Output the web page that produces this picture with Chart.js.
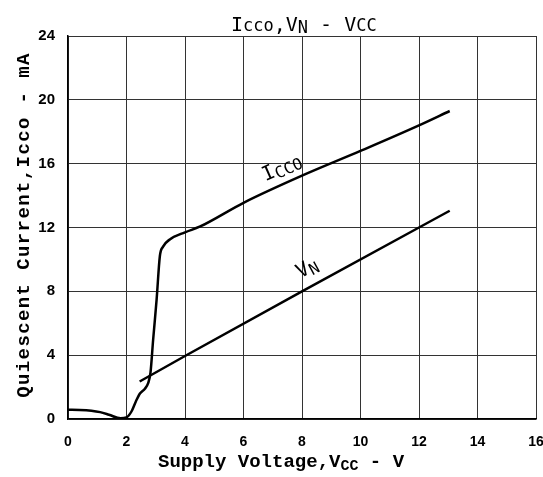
<!DOCTYPE html>
<html>
<head>
<meta charset="utf-8">
<script src="https://cdn.jsdelivr.net/npm/chart.js@4.4.1/dist/chart.umd.min.js"></script>
<style>
  html, body { margin: 0; padding: 0; background: #fff; }
  #wrap { width: 543px; height: 477px; }
</style>
</head>
<body>
<div id="wrap"><canvas id="grafico"></canvas></div>
<script>
// Icco curve (V, mA)
const icco_x = [0, 0.4, 0.8, 1.1, 1.4, 1.8, 2.0, 2.17, 2.32, 2.46, 2.63, 2.74, 2.82, 2.91, 3.03, 3.14, 3.25, 3.48, 4.0, 4.5, 6, 8, 10, 12, 13.05]
const icco_y = [0.58, 0.57, 0.52, 0.43, 0.27, 0.04, 0.1, 0.47, 1.1, 1.6, 1.9, 2.25, 2.9, 4.95, 7.5, 10.2, 10.8, 11.25, 11.7, 12.05, 13.55, 15.25, 16.8, 18.4, 19.3]

// VN line (V)
const vn_x = [2.45, 4, 8, 12, 13.05]
const vn_y = [2.35, 3.95, 8, 12, 13.05]

const x_ticks = [0, 2, 4, 6, 8, 10, 12, 14, 16]
const y_ticks = [0, 4, 8, 12, 16, 20, 24]

function pares(xs, ys){
    var out = []
    for(var i = 0; i < xs.length; i++){
        out.push({x: xs[i], y: ys[i]})
    }
    return out
}

// draws a string made of [text, font, dy] pieces starting at x
function pecas(ctx, parts, x, y){
    for(const p of parts){
        ctx.font = p[1]
        ctx.fillText(p[0], x, y + (p[2] || 0))
        x += ctx.measureText(p[0]).width
    }
    return x
}
function largura(ctx, parts){
    var w = 0
    for(const p of parts){
        ctx.font = p[1]
        w += ctx.measureText(p[0]).width
    }
    return w
}

const textos = {
    id: 'textos',
    afterDraw(chart){
        const ctx = chart.ctx
        const xs = chart.scales.x, ys = chart.scales.y
        ctx.save()
        ctx.fillStyle = '#000'
        ctx.textBaseline = 'alphabetic'
        ctx.textAlign = 'left'

        // title
        const tf = '20px "DejaVu Sans Mono"'
        const tfs = '17px "DejaVu Sans Mono"'
        const titulo = [['I', tf], ['cco', tfs], [',V', tf], ['N', tfs, 2], [' - V', tf], ['CC', tfs]]
        pecas(ctx, titulo, 231, 31)

        // x axis title
        const bf = 'bold 19px "Liberation Mono"'
        const bfs = 'bold 15px "Liberation Mono"'
        const xt = [['Supply Voltage,V', bf], ['CC', bfs, 3], [' - V', bf]]
        pecas(ctx, xt, 158, 467)

        // y axis title, rotated
        ctx.save()
        ctx.translate(29, 225)
        ctx.rotate(-Math.PI / 2)
        ctx.letterSpacing = '1.4px'
        const yt = [['Quiescent Current,Icco - mA', bf]]
        pecas(ctx, yt, -largura(ctx, yt) / 2, 0)
        ctx.restore()

        // curve labels
        const lf = '20px "DejaVu Sans Mono"'
        const lfs = '16px "DejaVu Sans Mono"'
        ctx.save()
        ctx.translate(xs.getPixelForValue(6.75), ys.getPixelForValue(14.9))
        ctx.rotate(-0.42)
        pecas(ctx, [['I', lf], ['CCO', lfs, 3]], 0, 0)
        ctx.restore()

        ctx.save()
        ctx.translate(xs.getPixelForValue(7.95), ys.getPixelForValue(8.8))
        ctx.rotate(-0.5)
        pecas(ctx, [['V', lf], ['N', lfs, 3]], 0, 0)
        ctx.restore()

        ctx.restore()
    }
}

const data = {
    datasets: [
        {
            label: 'Icco',
            data: pares(icco_x, icco_y),
            showLine: true,
            borderColor: '#000',
            borderWidth: 2.5,
            pointRadius: 0,
            cubicInterpolationMode: 'monotone',
        },
        {
            label: 'VN',
            data: pares(vn_x, vn_y),
            showLine: true,
            borderColor: '#000',
            borderWidth: 2.5,
            pointRadius: 0,
        },
    ]
}

const config = {
    type: 'scatter',
    data: data,
    plugins: [textos],
    options: {
        responsive: true,
        maintainAspectRatio: false,
        animation: false,
        layout: { padding: { top: 36, right: 7, left: 0, bottom: 0 } },
        plugins: {
            legend: { display: false },
            tooltip: { enabled: false },
        },
        scales: {
            x: {
                type: 'linear',
                min: 0,
                max: 16,
                afterBuildTicks: s => { s.ticks = x_ticks.map(v => ({value: v})) },
                afterFit: s => { s.height = 58; s.paddingLeft = 0; s.paddingRight = 0 },
                grid: { color: '#333', lineWidth: 1, drawTicks: false },
                border: { color: '#000', width: 1.5 },
                ticks: {
                    color: '#000',
                    padding: 15,
                    maxRotation: 0,
                    font: { family: 'Liberation Sans', size: 14, weight: 'bold' },
                },
            },
            y: {
                type: 'linear',
                min: 0,
                max: 24,
                afterBuildTicks: s => { s.ticks = y_ticks.map(v => ({value: v})) },
                afterFit: s => { s.width = 68; s.paddingTop = 0; s.paddingBottom = 0 },
                grid: { color: '#333', lineWidth: 1, drawTicks: false },
                border: { color: '#000', width: 1.5 },
                ticks: {
                    color: '#000',
                    padding: 13,
                    font: { family: 'Liberation Sans', size: 15, weight: 'bold' },
                },
            },
        },
    },
}

const graficoGeral = new Chart(document.getElementById('grafico'), config)
</script>
</body>
</html>
